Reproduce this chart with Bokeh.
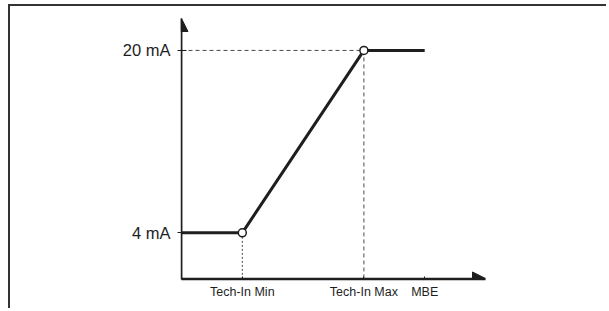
from bokeh.plotting import figure
from bokeh.models import FixedTicker, Range1d, Arrow, NormalHead
from bokeh.embed import file_html
from bokeh.resources import INLINE

# ---- data ----
x_tick_positions = [1, 3, 4]
x_tick_labels = ["Tech-In Min", "Tech-In Max", "MBE"]
y_tick_positions = [4, 20]
y_tick_labels = ["4 mA", "20 mA"]

curve_x = [0, 1, 3, 4]        # axis origin, Tech-In Min, Tech-In Max, MBE
curve_y = [4, 4, 20, 20]      # mA
marker_x = [1, 3]
marker_y = [4, 20]
x_axis_end = 5
y_axis_end = 22.8

DARK = "#1e1e1e"
GUIDE = "#4a4a4a"
FONT = "Liberation Sans"

p = figure(
    width=598, height=304,
    x_range=Range1d(0, x_axis_end), y_range=Range1d(-0.09, y_axis_end),
    output_backend="svg", toolbar_location=None,
    min_border_left=171, min_border_right=123, min_border_top=12, min_border_bottom=31,
    styles={"border-top": "2px solid #333333", "border-left": "2px solid #333333",
            "margin-top": "4px", "margin-left": "8px"},
)
p.xgrid.visible = False
p.ygrid.visible = False
p.outline_line_color = None
p.background_fill_color = "white"
p.border_fill_color = "white"

for ax in p.xaxis:
    ax.ticker = FixedTicker(ticks=x_tick_positions)
    ax.major_label_overrides = dict(zip(x_tick_positions, x_tick_labels))
    ax.major_tick_in = 3
    ax.major_tick_out = 0
    ax.minor_tick_in = 0
    ax.minor_tick_out = 0
    ax.major_label_standoff = 5
    ax.major_label_text_font = FONT
    ax.major_label_text_font_size = "12.5px"
    ax.major_label_text_color = DARK
    ax.axis_line_color = DARK
    ax.axis_line_width = 1.5
    ax.major_tick_line_color = DARK

for ax in p.yaxis:
    ax.ticker = FixedTicker(ticks=y_tick_positions)
    ax.major_label_overrides = dict(zip(y_tick_positions, y_tick_labels))
    ax.major_tick_in = 5
    ax.major_tick_out = 4
    ax.minor_tick_in = 0
    ax.minor_tick_out = 0
    ax.major_label_standoff = 7
    ax.major_label_text_font = FONT
    ax.major_label_text_font_size = "16.5px"
    ax.major_label_text_color = DARK
    ax.axis_line_color = DARK
    ax.axis_line_width = 1.5
    ax.major_tick_line_color = DARK

# guide lines
p.line([0, marker_x[1]], [marker_y[1], marker_y[1]], line_color=GUIDE, line_width=1, line_dash="4 3")
p.line([marker_x[1], marker_x[1]], [marker_y[1], 0], line_color=GUIDE, line_width=1, line_dash="4 3")
p.line([marker_x[0], marker_x[0]], [marker_y[0], 0], line_color=GUIDE, line_width=1, line_dash="2 2")

# main curve
p.line(curve_x, curve_y, line_color=DARK, line_width=3)
p.scatter(marker_x, marker_y, size=8, fill_color="white", line_color=DARK, line_width=1.5)

# axis arrows
p.add_layout(Arrow(end=NormalHead(size=13, fill_color=DARK, line_color=DARK, line_width=1),
                   x_start=0, y_start=0, x_end=x_axis_end, y_end=0,
                   line_color=DARK, line_width=1.5))
p.add_layout(Arrow(end=NormalHead(size=13, fill_color=DARK, line_color=DARK, line_width=1),
                   x_start=0, y_start=0, x_end=0, y_end=y_axis_end,
                   line_color=DARK, line_width=1.5))

open("out.html", "w").write(file_html(p, INLINE))
